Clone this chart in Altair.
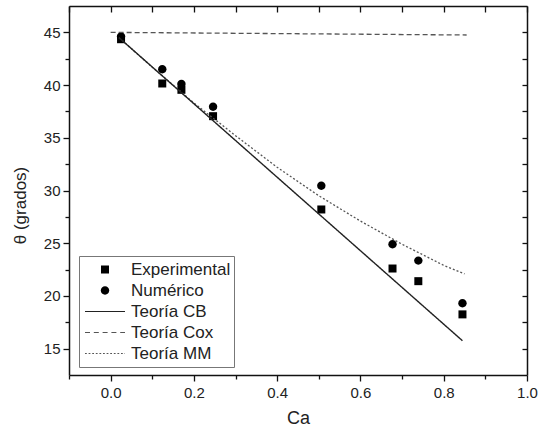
import altair as alt
import pandas as pd

# ---- data ----
ca_pts = [0.025, 0.124, 0.17, 0.246, 0.506, 0.677, 0.739, 0.845]
theta_exp = [44.35, 40.15, 39.55, 37.05, 28.2, 22.6, 21.4, 18.25]
theta_num = [44.6, 41.5, 40.1, 37.95, 30.45, 24.9, 23.35, 19.3]

cb_x = [0.02, 0.845]
cb_y = [44.5, 15.75]
cox_x = [0.0, 0.855]
cox_y = [45.0, 44.75]
mm_x = [0.02, 0.1, 0.2, 0.3, 0.4, 0.5, 0.6, 0.7, 0.8, 0.85]
mm_y = [44.5, 41.7, 38.3, 35.2, 32.2, 29.5, 27.1, 24.9, 22.9, 22.1]

series = ["Experimental", "Numérico", "Teoría CB", "Teoría Cox", "Teoría MM"]

x_ticks = [round(-0.1 + 0.1 * i, 1) for i in range(12)]
y_ticks = [12.5 + 2.5 * i for i in range(1, 14)]

FONT = "Liberation Sans"

# ---- legend symbol paths (unit box -1..1 spans 40 px) ----
def seg_path(segs, h=0.03):
    return "".join(f"M{a:.3f},{-h}L{b:.3f},{-h}L{b:.3f},{h}L{a:.3f},{h}Z" for a, b in segs)

def dashes(dash, gap):
    out, a = [], -1.0
    while a < 1.0:
        out.append((a, min(a + dash, 1.0)))
        a += dash + gap
    return out

sq = "M-0.2,-0.2L0.2,-0.2L0.2,0.2L-0.2,0.2Z"
circ = "M0.21,0A0.21,0.21 0 1,1 -0.21,0A0.21,0.21 0 1,1 0.21,0Z"
solid = seg_path([(-1.0, 1.0)])
dashed = seg_path(dashes(0.25, 0.19))
dotted = seg_path(dashes(0.09, 0.09))

pts = pd.DataFrame({
    "Ca": ca_pts + ca_pts,
    "theta": theta_exp + theta_num,
    "series": ["Experimental"] * len(ca_pts) + ["Numérico"] * len(ca_pts),
})

xscale = alt.Scale(domain=[-0.1, 1.0], nice=False, zero=False)
yscale = alt.Scale(domain=[12.5, 47.5], nice=False, zero=False)

common = dict(grid=False, domainColor="#111", domainWidth=1.5, tickColor="#111", tickWidth=1.3)

x_axis = alt.Axis(
    orient="bottom", values=x_ticks, title="Ca",
    labelExpr="abs(round(datum.value*10)) % 2 == 0 ? format(datum.value, '.1f') : ''",
    tickSize={"expr": "abs(round(datum.value*10)) % 2 == 0 ? 6 : 4"},
    labelFont=FONT, labelFontSize=15, labelColor="#222",
    titleFont=FONT, titleFontSize=18, titleFontWeight="normal", titleColor="#222",
    titlePadding=9, labelPadding=4, labelFlush=False, **common,
)
y_axis = alt.Axis(
    orient="left", values=y_ticks, title="θ (grados)",
    labelExpr="datum.value % 5 == 0 ? datum.label : ''",
    tickSize={"expr": "datum.value % 5 == 0 ? 6 : 4"},
    labelFont=FONT, labelFontSize=15, labelColor="#222",
    titleFont=FONT, titleFontSize=17, titleFontWeight="normal", titleColor="#222",
    titlePadding=14, titleY=199, labelPadding=3, labelFlush=False, **common,
)

legend = alt.Legend(
    title=None, orient="none", legendX=10, legendY=250,
    symbolSize=1600, clipHeight=21, rowPadding=0, padding=3, symbolOffset=2,
    labelOffset=5, labelFont=FONT, labelFontSize=17, labelColor="#222",
    strokeColor="#777", fillColor="white",
)

shape_scale = alt.Scale(domain=series, range=[sq, circ, solid, dashed, dotted])
color_scale = alt.Scale(domain=series, range=["#000", "#000", "#222", "#555", "#555"])

points = alt.Chart(pts).mark_point(filled=True, size=1600, opacity=1).encode(
    x=alt.X("Ca:Q", scale=xscale, axis=x_axis),
    y=alt.Y("theta:Q", scale=yscale, axis=y_axis),
    shape=alt.Shape("series:N", scale=shape_scale, legend=legend),
    color=alt.Color("series:N", scale=color_scale, legend=legend),
)

def line(xs, ys, color, dash, width):
    df = pd.DataFrame({"Ca": xs, "theta": ys})
    return alt.Chart(df).mark_line(color=color, strokeDash=dash, strokeWidth=width).encode(
        x=alt.X("Ca:Q", scale=xscale, axis=None),
        y=alt.Y("theta:Q", scale=yscale, axis=None),
    )

cb = line(cb_x, cb_y, "#222", [1, 0], 1.4)
cox = line(cox_x, cox_y, "#555", [5, 3], 1.3)
mm = line(mm_x, mm_y, "#555", [2, 2], 1.3)

# top / right frame axes with inward ticks
top = alt.Chart(pd.DataFrame({"Ca": cb_x, "theta": cb_y})).mark_point(opacity=0).encode(
    x=alt.X("Ca:Q", scale=xscale, axis=alt.Axis(
        orient="top", values=x_ticks, labels=False, title=None,
        tickSize={"expr": "-6"}, **common)),
    y=alt.Y("theta:Q", scale=yscale, axis=alt.Axis(
        orient="right", values=y_ticks, labels=False, title=None,
        tickSize={"expr": "-5"}, **common)),
)

chart = alt.layer(points, cox, mm, cb, top).resolve_axis(
    x="independent", y="independent"
).properties(
    width=458, height=369,
    autosize=alt.AutoSizeParams(type="none"),
    padding={"left": 69, "top": 6, "right": 13, "bottom": 61},
    background="white",
).configure_view(stroke=None)

chart.save("out.html", embed_options={"renderer": "svg", "actions": False})
